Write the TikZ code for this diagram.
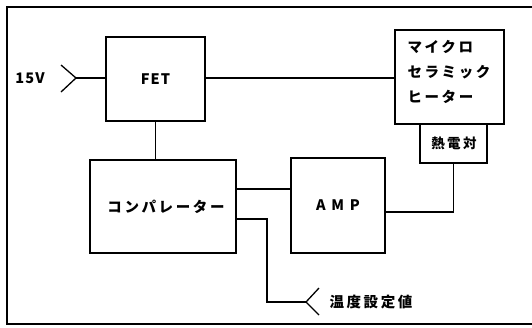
\documentclass[tikz,border=0pt]{standalone}
\usepackage{fontspec}
\newfontfamily\jp[LetterSpace=18]{Noto Sans CJK JP}
\newfontfamily\lat[LetterSpace=8]{Noto Sans CJK JP}
\newfontfamily\latsp[LetterSpace=40]{Noto Sans CJK JP}
\begin{document}
\begin{tikzpicture}[x=1pt,y=-1pt,
  blk/.style={draw,line width=1.4pt,rectangle,inner sep=0pt},
  wire/.style={line width=1.3pt},
  jtxt/.style={font=\jp\bfseries\fontsize{14.5}{25}\selectfont}]
\useasboundingbox (0,0) rectangle (532,327);
\draw[line width=1.6pt] (532,7) -- (7,7) -- (7,324) -- (532,324);
\node[blk,minimum width=99pt,minimum height=84pt] (fet) at (155.5,79) {\lat\bfseries\fontsize{14.5}{16}\selectfont FET};
\node[blk,minimum width=146pt,minimum height=93pt] (comp) at (163,206.5) {};
\node[jtxt] at (166,206.5) {コンパレーター};
\node[blk,minimum width=94pt,minimum height=95pt] (amp) at (338,205.5) {\latsp\bfseries\fontsize{14.5}{16}\selectfont AMP};
\node[blk,minimum width=109pt,minimum height=94pt] (heat) at (449.5,77) {};
\node[jtxt,align=left,anchor=west] (htxt) at (404,72) {マイクロ\\セラミック\\ヒーター};
\node[blk,minimum width=67pt,minimum height=39pt] (tc) at (453.5,143.5) {};
\node[jtxt,font=\jp\bfseries\fontsize{13.5}{15}\selectfont] at (454,143) {熱電対};
\node[font=\lat\bfseries\fontsize{14.5}{16}\selectfont] (v15) at (30,78) {15V};
\coordinate (vin) at (76,78);
\coordinate (vset) at (306,302);
\node[jtxt,anchor=west] (tset) at (326,302) {温度設定値};
% chevrons
\draw[wire] (61,65) -- (vin) -- (61,92);
\draw[wire] (319,288) -- (vset) -- (319,315);
% wires
\draw[wire] (vin) -- (vin -| fet.west);
\draw[wire] ([yshift=1pt]fet.east) -- ([yshift=1pt]fet.east -| heat.west);
\draw[wire] (fet.south) -- (fet.south |- comp.north);
\draw[wire] ([yshift=17.5pt]comp.east) -- ([yshift=17.5pt]comp.east -| amp.west);
\draw[wire] ([yshift=-12.5pt]comp.east) -| (267,302) -- (vset);
\draw[wire] (tc.south) |- ([yshift=-6.5pt]amp.east);
\end{tikzpicture}
\end{document}
